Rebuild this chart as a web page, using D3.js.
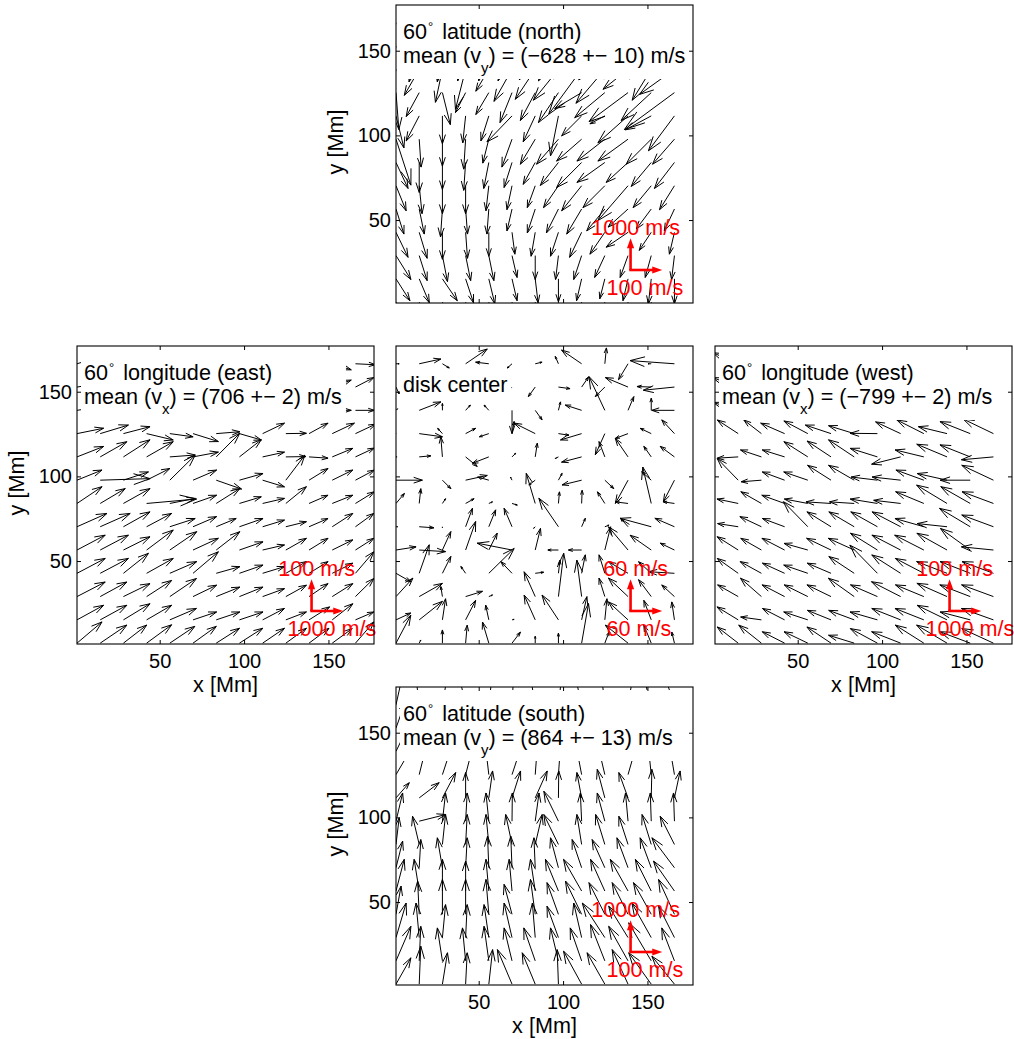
<!DOCTYPE html>
<html><head><meta charset="utf-8">
<script src="https://cdn.jsdelivr.net/npm/d3@7"></script>
<style>
body{margin:0;background:#fff;}
svg{display:block;font-family:"Liberation Sans",Arial,Helvetica,sans-serif;}
text{white-space:pre;}
</style></head><body>
<svg id="chart" width="1014" height="1039"></svg>
<script>
// ---------------- DATA ----------------
// grid of vector origins [Mm]; rows listed top to bottom
const xGrid = [1,14.75,28.5,42.25,56,69.75,83.5,97.25,111,124.75,138.5,152.25,166];
const yGrid = [166.5,152.75,139,125.25,111.5,97.75,84,70.25,56.5,42.75,29,15.25,1.5];
const axisTicks = [50,100,150];

const panelNames = ["north","east","center","west","south"];
const titleDegree = ["60","60",null,"60","60"];
const titleText = ["latitude (north)","longitude (east)","disk center","longitude (west)","latitude (south)"];
const meanComponent = ["y","x",null,"x","y"];
const meanText = [") = (\u2212628 +\u2212 10) m/s",") = (706 +\u2212 2) m/s",null,") = (\u2212799 +\u2212 2) m/s",") = (864 +\u2212 13) m/s"];
// reference arrow values [m/s]: horizontal and vertical
const refU = [100,1000,60,1000,100];
const refV = [1000,100,60,100,1000];

// velocities [m/s], rows top -> bottom, columns left -> right
const northU = [
[-25,-38,-19,-32,-38,-47,-57,-63,-79,-79,-69,-63,-88],
[-19,-32,-16,-25,-32,-44,-50,-63,-88,-82,-76,-69,-95],
[-16,-47,-22,-32,-41,-57,-63,-79,-104,-91,-79,-60,-110],
[9,-41,25,-32,-41,-38,-47,-63,-85,-95,-123,-95,-158],
[25,-41,0,-9,-25,-79,-38,-25,-63,-47,-95,-82,-82],
[47,6,0,-6,-19,-32,-47,-69,-79,-88,-95,-79,-69],
[38,0,0,-6,-16,-25,-38,-57,-79,-88,-69,-63,-63],
[32,9,0,0,-9,-16,-25,-47,-63,-69,-95,-57,-47],
[25,16,-6,6,-6,-16,-25,-38,-47,-57,-63,-47,-32],
[38,25,0,6,0,9,-13,-25,-38,-47,-69,-38,-16],
[47,25,16,16,16,16,0,-9,-25,-32,-25,-19,-9],
[44,32,47,25,19,16,9,0,-16,-16,-16,-9,0],
[38,32,38,25,16,16,9,0,-9,-16,-9,0,0]];
const northV = [
[-1070,-1040,-1100,-1070,-1010,-1040,-1010,-1010,-1040,-1040,-945,-1010,-945],
[-1100,-1130,-1130,-1100,-1100,-1100,-1070,-1100,-1040,-1070,-1040,-1040,-1010],
[-880,-820,-1040,-1260,-690,-1010,-945,-975,-1420,-1070,-630,-975,-790],
[-1165,-755,-1010,-630,-690,-945,-880,-945,-505,-790,-915,-880,-1165],
[-1010,-790,-880,-850,-790,-820,-820,-1260,-630,-250,-850,-440,-1100],
[-1450,-880,-850,-945,-755,-880,-790,-790,-690,-690,-690,-790,-790],
[-820,-945,-850,-880,-820,-790,-690,-725,-790,-630,-630,-755,-820],
[-790,-880,-880,-880,-790,-755,-690,-690,-790,-690,-1100,-690,-755],
[-790,-790,-880,-790,-790,-690,-755,-755,-790,-690,-570,-630,-690],
[-790,-820,-850,-820,-755,-690,-755,-755,-790,-690,-470,-570,-690],
[-755,-790,-820,-790,-790,-690,-755,-755,-755,-690,-690,-690,-755],
[-690,-755,-690,-755,-790,-690,-755,-725,-690,-630,-690,-790,-790],
[-690,-690,-690,-690,-690,-690,-690,-690,-690,-690,-690,-690,-690]];

const eastU = [
[650,640,620,650,600,650,640,620,650,660,640,600,630],
[650,660,640,650,620,640,650,660,640,650,620,600,580],
[650,650,640,660,640,650,650,630,660,650,630,600,600],
[840,890,840,840,735,800,745,690,690,650,600,700,640],
[840,840,840,840,800,800,745,690,690,630,600,650,600],
[790,1575,790,735,800,745,800,745,690,600,600,650,600],
[790,790,840,1575,800,745,745,690,690,650,600,650,600],
[945,945,840,790,800,745,630,745,690,650,600,650,580],
[890,890,840,840,850,800,745,745,690,650,600,650,580],
[890,890,790,840,850,800,745,745,690,650,600,650,580],
[890,840,840,790,840,745,745,745,690,650,600,650,580],
[840,840,840,790,840,745,745,745,690,650,650,650,580],
[790,840,735,790,790,735,735,735,690,650,630,630,580]];
const eastV = [
[20,10,0,-10,10,0,20,10,0,10,-10,-19,-3],
[10,20,10,0,15,10,20,0,10,20,10,22,30],
[10,20,10,20,10,15,10,20,15,10,10,0,0],
[17,27,22,-20,-10,-25,6,-20,33,1,33,33,30],
[33,48,54,48,6,15,75,54,15,1,-4,27,28],
[32,5,26,37,79,32,-28,21,-21,79,37,32,32],
[53,47,47,14,16,26,47,21,16,53,26,26,37],
[42,42,47,42,26,32,26,26,21,16,26,42,42],
[47,47,42,63,58,37,58,26,16,37,37,32,37],
[47,47,63,47,37,68,21,26,21,37,37,32,68],
[46,46,41,51,57,36,30,30,25,36,41,41,57],
[46,46,51,46,36,25,25,25,36,25,41,51,25],
[67,57,57,58,53,53,47,47,47,47,47,46,67]];

const centerU = [
[6,41,13,41,-25,-9,13,-6,-38,3,-18,-6,-84],
[6,10,-5,8,-6,-3,-13,22,13,-18,-43,-27,-59],
[3,41,0,9,-9,0,13,4,-31,-30,11,0,-43],
[-3,44,-9,19,-18,4,-40,20,-40,-18,-24,-21,-24],
[2,22,-3,22,-31,7,4,-6,-38,-11,-24,-14,-27],
[50,3,16,41,-21,-3,-12,7,-37,17,-24,-18,-21],
[16,3,6,16,7,10,-17,2,1,-14,-24,-16,-21],
[3,28,0,13,13,-15,-3,-37,7,8,-14,-59,-37],
[38,50,16,19,16,-66,10,-20,-25,11,-37,-40,-27],
[28,19,16,-9,48,-21,16,3,7,-11,-37,-24,-49],
[32,44,-3,32,7,0,-21,10,-9,-11,-37,-24,-24],
[28,44,6,19,-6,4,-21,-31,10,4,-37,-14,-5],
[28,3,0,3,-12,16,0,0,13,8,-43,-14,-5]];
const centerV = [
[0,9,-8,28,3,-8,3,14,26,30,-30,0,6],
[-13,10,5,-8,6,-3,-18,-3,19,-18,18,1,-6],
[3,16,13,10,10,-44,-18,16,10,64,26,23,0],
[3,-6,10,10,-6,23,20,-3,-12,-40,-9,10,26],
[0,2,38,-18,-12,7,26,-3,-10,29,35,20,20],
[0,0,-16,9,6,6,-9,13,-9,-16,-44,16,-41],
[19,28,9,9,3,-3,57,22,25,22,3,69,3],
[0,-2,-2,35,32,35,-3,54,16,3,16,16,16],
[6,-3,35,54,32,13,41,0,0,44,44,28,13],
[-16,54,32,13,47,22,2,25,35,35,22,22,3],
[35,25,19,10,3,0,47,82,69,35,35,32,22],
[13,35,40,37,28,1,47,47,44,40,34,37,34],
[53,6,25,34,40,21,13,19,75,21,34,34,21]];

const westU = [
[-780,-800,-820,-790,-810,-800,-830,-800,-790,-820,-800,-810,-800],
[-790,-810,-800,-820,-790,-800,-810,-830,-800,-790,-810,-800,-820],
[-800,-790,-810,-800,-820,-790,-800,-810,-820,-800,-790,-810,-800],
[-700,-660,-555,-755,-755,-810,-810,-860,-790,-850,-905,-955,-955],
[-720,-660,-660,-705,-755,-755,-810,-860,-915,-905,-955,-955,-1010],
[-700,-660,-640,-705,-760,-740,-810,-830,-900,-880,-940,-950,-1000],
[-690,-670,-650,-720,-740,-790,-780,-860,-850,-890,-960,-930,-990],
[-710,-650,-680,-700,-770,-760,-800,-840,-900,-910,-940,-970,-1000],
[-700,-665,-650,-715,-750,-770,-820,-850,-905,-920,-950,-940,-1010],
[-690,-660,-670,-700,-760,-750,-800,-870,-910,-900,-960,-950,-990],
[-705,-650,-660,-710,-745,-760,-815,-850,-920,-895,-950,-960,-1005],
[-700,-670,-655,-700,-760,-745,-805,-865,-910,-910,-945,-950,-1010],
[-695,-660,-715,-705,-750,-760,-810,-855,-915,-900,-960,-955,-1000]];
const westV = [
[30,35,25,30,40,30,25,35,30,30,35,30,30],
[25,30,35,30,25,35,30,30,35,30,25,30,35],
[30,25,30,35,30,30,35,25,30,35,30,30,30],
[30,43,43,33,40,27,25,1,37,43,22,38,46],
[20,-4,22,22,48,50,54,27,-23,22,40,38,-9],
[30,68,-5,26,26,47,47,10,10,32,21,0,47],
[15,14,37,26,14,5,5,14,10,37,58,53,37],
[10,10,32,26,79,47,47,47,47,26,10,58,37],
[40,42,37,37,21,37,37,53,47,47,53,68,10],
[40,47,37,32,26,32,53,89,58,47,37,37,37],
[35,37,58,37,37,37,58,37,47,37,42,37,37],
[40,41,9,36,25,30,30,25,36,36,46,25,36],
[45,51,57,36,36,51,25,46,36,57,57,36,46]];

const southU = [
[20,-10,15,-20,10,5,-15,10,-20,-10,15,-25,-30],
[30,10,20,0,-10,15,5,0,-15,-20,10,-10,-20],
[40,20,25,15,-5,20,5,5,-10,-20,20,-5,-15],
[47,21,26,21,-9,27,6,6,-15,-19,23,-8,-14],
[42,63,42,0,12,27,38,1,-15,-24,-29,2,18],
[21,84,10,5,-9,1,12,-46,-4,-24,-8,-3,-3],
[10,-21,10,5,-9,-20,22,-46,-15,-29,-29,-29,-45],
[21,5,-16,5,-4,-4,-4,-25,-30,-40,-35,-35,-71],
[26,-16,0,0,-9,-9,-15,-41,-57,-45,-56,-50,-66],
[16,-5,0,0,-9,-25,-15,-36,-51,-50,-50,-56,-50],
[32,-10,10,5,-15,-25,-9,-36,-25,-71,-61,-61,-50],
[47,5,-16,-10,-15,-25,-36,-25,-36,-45,-61,-71,-40],
[47,5,16,5,12,-46,-41,-4,-57,-56,-50,-71,-71]];
const southV = [
[900,850,880,900,870,900,880,860,900,880,870,900,880],
[850,870,900,860,880,850,900,870,860,880,900,860,870],
[820,860,850,830,840,860,820,850,830,840,860,830,850],
[800,850,790,810,780,820,800,830,790,810,800,780,820],
[480,480,800,800,850,850,850,850,800,900,800,900,850],
[890,210,890,890,890,890,890,945,890,890,890,890,890],
[840,890,945,945,945,945,945,945,945,945,890,945,890],
[840,890,945,945,1000,1000,945,945,890,890,945,945,945],
[1000,1000,1000,945,1000,1000,1000,1000,1000,1000,1000,1000,945],
[890,1050,1100,1100,1100,945,1100,1000,1050,1000,1000,1000,1100],
[1090,1090,1040,1040,1040,1090,1090,990,1090,1090,990,1090,990],
[1090,1090,1040,1040,1090,1040,1040,1040,1040,1145,1090,1200,1040],
[830,1200,990,990,1090,1090,990,1090,1040,990,1090,990,880]];

const velU = [northU, eastU, centerU, westU, southU];
const velV = [northV, eastV, centerV, westV, southV];

// ---------------- LAYOUT / STYLE ----------------
const PW = 297, PH = 298;
const layout = [
  {left:396, top:5,   yLab:true,  xLab:false},
  {left:77,  top:346, yLab:true,  xLab:true},
  {left:396, top:346, yLab:false, xLab:false},
  {left:715, top:346, yLab:false, xLab:true},
  {left:396, top:687, yLab:true,  xLab:true}
];
const REF_PX = 31.7;           // length of reference arrows
const legendAt = [140, 20.5];  // legend origin in axis units
const ALPHA = 0.33, BETA = 0.33;
const TITLE_FS = 21.6;

const svg = d3.select("#chart");

panelNames.forEach((name, p) => {
  const L = layout[p];
  const g = svg.append("g").attr("transform", `translate(${L.left},${L.top})`);
  const x = d3.scaleLinear().domain([1, 177]).range([0, PW]);
  const y = d3.scaleLinear().domain([1, 177]).range([PH, 0]);
  const su = d3.scaleLinear().domain([0, refU[p]]).range([0, REF_PX]);
  const sv = d3.scaleLinear().domain([0, refV[p]]).range([0, REF_PX]);

  g.append("clipPath").attr("id", "clip-" + name)
    .append("rect").attr("width", PW).attr("height", PH);

  const cells = [];
  yGrid.forEach((yv, r) => xGrid.forEach((xv, c) => {
    const u = velU[p][r][c], v = velV[p][r][c];
    if (u == null || v == null) return;
    cells.push({xv, yv, u, v});
  }));

  g.append("g").attr("clip-path", `url(#clip-${name})`)
    .selectAll("path").data(cells).join("path")
    .attr("fill", "none").attr("stroke", "#000").attr("stroke-width", 1)
    .attr("d", d => {
      const X = x(d.xv), Y = y(d.yv);
      const dx = su(d.u), dy = -sv(d.v);
      const tx = X + dx, ty = Y + dy;
      const h1x = tx - ALPHA * (dx + BETA * dy), h1y = ty - ALPHA * (dy - BETA * dx);
      const h2x = tx - ALPHA * (dx - BETA * dy), h2y = ty - ALPHA * (dy + BETA * dx);
      return `M${X},${Y}L${tx},${ty}M${h1x},${h1y}L${tx},${ty}L${h2x},${h2y}`;
    });

  // title (single text element, two lines) with white background box
  const twoLine = titleDegree[p] != null;
  const t = g.append("text").attr("x", 7).attr("font-size", TITLE_FS);
  if (twoLine) {
    t.attr("y", 33.5);
    t.append("tspan").text(titleDegree[p]);
    t.append("tspan").attr("font-size", 13).attr("dy", -8).attr("dx", 1).text("\u00B0");
    t.append("tspan").attr("dy", 8).attr("dx", 3).text(" " + titleText[p]);
    t.append("tspan").attr("x", 7).attr("dy", 24).text("mean (v");
    t.append("tspan").attr("font-size", 15).attr("dy", 10).text(meanComponent[p]);
    t.append("tspan").attr("dy", -10).text(meanText[p]);
  } else {
    t.attr("y", 46).text(titleText[p]);
  }
  const bb = t.node().getBBox();
  const boxTop = twoLine ? 3 : bb.y - 3;
  const boxBottom = twoLine ? 74 : bb.y + bb.height + 3;
  g.insert("rect", () => t.node())
    .attr("x", 4).attr("y", boxTop)
    .attr("width", Math.min(bb.x + bb.width + 4, PW) - 4).attr("height", boxBottom - boxTop)
    .attr("fill", "#fff");

  // red reference arrows
  const ox = x(legendAt[0]), oy = y(legendAt[1]);
  const lv = sv(refV[p]), lu = su(refU[p]);
  const red = "#ff0000";
  const lg = g.append("g");
  lg.append("line").attr("x1", ox).attr("y1", oy).attr("x2", ox).attr("y2", oy - lv + 6)
    .attr("stroke", red).attr("stroke-width", 2.6);
  lg.append("path").attr("fill", red)
    .attr("d", `M${ox},${oy - lv}L${ox - 3.6},${oy - lv + 10}L${ox + 3.6},${oy - lv + 10}Z`);
  lg.append("line").attr("x1", ox - 1.3).attr("y1", oy).attr("x2", ox + lu - 6).attr("y2", oy)
    .attr("stroke", red).attr("stroke-width", 2.6);
  lg.append("path").attr("fill", red)
    .attr("d", `M${ox + lu},${oy}L${ox + lu - 10},${oy - 3.6}L${ox + lu - 10},${oy + 3.6}Z`);
  lg.append("text").attr("x", ox + 5).attr("y", oy - 35).attr("text-anchor", "middle")
    .attr("font-size", 21.6).attr("fill", red).text(`${refV[p]} m/s`);
  lg.append("text").attr("x", ox - 24).attr("y", oy + 25)
    .attr("font-size", 21.6).attr("fill", red).text(`${refU[p]} m/s`);

  // axes (inward ticks on all sides)
  const fmt = d3.format("d");
  const styleAxis = a => {
    a.select(".domain").remove();
    a.attr("font-size", 20).attr("font-family", null);
    a.selectAll("line").attr("stroke", "#000");
    a.selectAll("text").attr("fill", "#000");
  };
  g.append("g").call(d3.axisLeft(y).tickValues(axisTicks).tickSize(-4).tickPadding(5)
    .tickFormat(L.yLab ? fmt : () => "")).call(styleAxis);
  g.append("g").attr("transform", `translate(${PW},0)`)
    .call(d3.axisRight(y).tickValues(axisTicks).tickSize(-4).tickFormat(() => "")).call(styleAxis);
  g.append("g").attr("transform", `translate(0,${PH})`)
    .call(d3.axisBottom(x).tickValues(axisTicks).tickSize(-4).tickPadding(10)
    .tickFormat(L.xLab ? fmt : () => "")).call(styleAxis);
  g.append("g")
    .call(d3.axisTop(x).tickValues(axisTicks).tickSize(-4).tickFormat(() => "")).call(styleAxis);

  g.append("rect").attr("x", 0).attr("y", 0).attr("width", PW).attr("height", PH)
    .attr("fill", "none").attr("stroke", "#000").attr("stroke-width", 1.1);

  if (L.xLab) {
    g.append("text").attr("x", PW / 2).attr("y", PH + 48).attr("text-anchor", "middle")
      .attr("font-size", 21.6).text("x [Mm]");
  }
  if (L.yLab) {
    g.append("text").attr("transform", `translate(-53,${PH / 2 - 12}) rotate(-90)`)
      .attr("text-anchor", "middle").attr("font-size", 21.6).text("y [Mm]");
  }
});
</script>
</body></html>
